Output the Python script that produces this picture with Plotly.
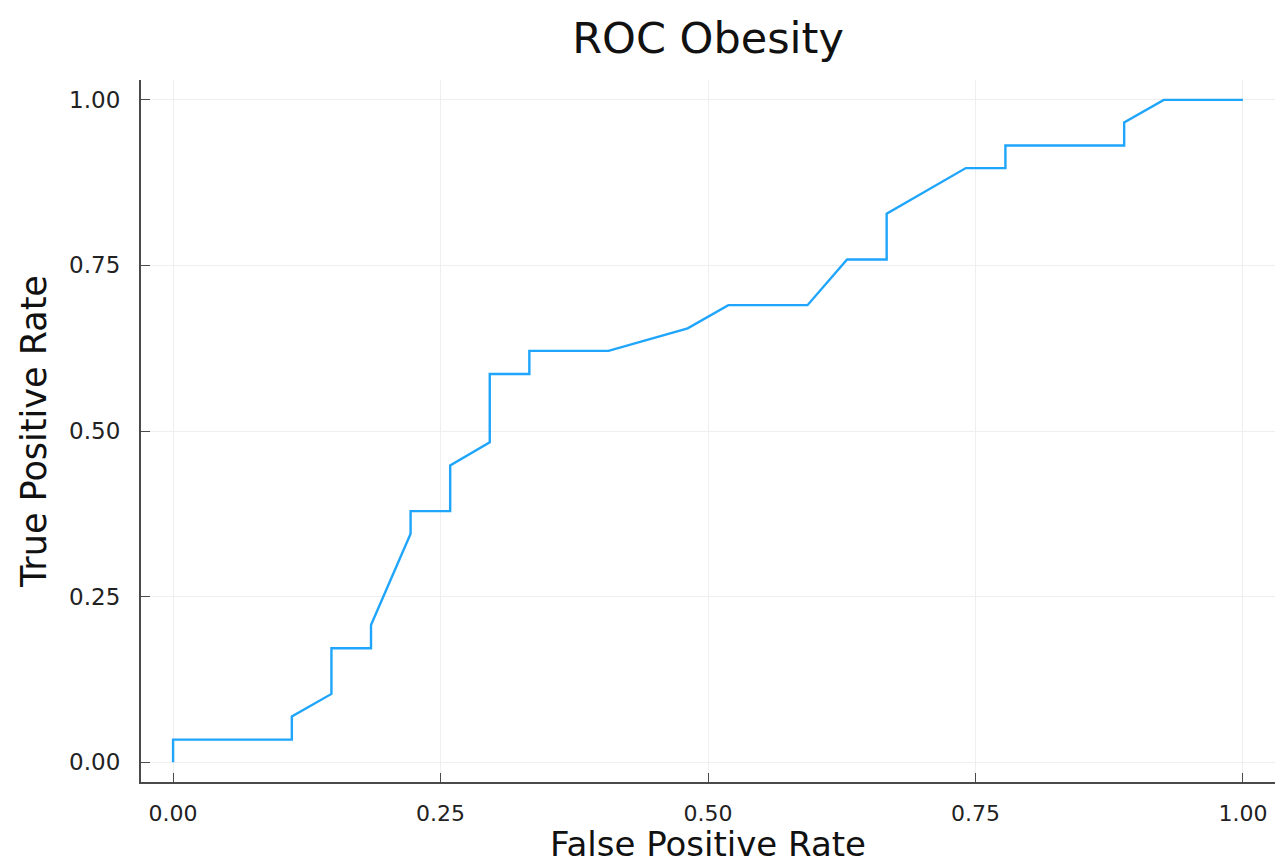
import plotly.graph_objects as go

# ROC curve points for the obesity classifier
false_positive_rate = [
    0.000, 0.000, 0.111, 0.111, 0.148, 0.148, 0.185, 0.185, 0.222, 0.222,
    0.259, 0.259, 0.296, 0.296, 0.333, 0.333, 0.407, 0.481, 0.519, 0.593,
    0.630, 0.667, 0.667, 0.741, 0.778, 0.778, 0.889, 0.889, 0.926, 1.000,
]
true_positive_rate = [
    0.000, 0.034, 0.034, 0.069, 0.103, 0.172, 0.172, 0.207, 0.345, 0.379,
    0.379, 0.448, 0.483, 0.586, 0.586, 0.621, 0.621, 0.655, 0.690, 0.690,
    0.759, 0.759, 0.828, 0.897, 0.897, 0.931, 0.931, 0.966, 1.000, 1.000,
]
tick_values = [0.0, 0.25, 0.5, 0.75, 1.0]
tick_labels = ["0.00", "0.25", "0.50", "0.75", "1.00"]

FONT = "DejaVu Sans"
AXIS_COLOR = "#4a4a4a"
GRID_COLOR = "#efefef"

fig = go.Figure(
    go.Scatter(
        x=false_positive_rate,
        y=true_positive_rate,
        mode="lines",
        line=dict(color="#1fa5fb", width=2.4),
        showlegend=False,
    )
)

axis_style = dict(
    tickmode="array",
    tickvals=tick_values,
    ticktext=tick_labels,
    ticks="inside",
    ticklen=9,
    tickwidth=1.2,
    tickcolor=AXIS_COLOR,
    showline=True,
    linecolor=AXIS_COLOR,
    linewidth=2.2,
    mirror=False,
    showgrid=True,
    gridcolor=GRID_COLOR,
    gridwidth=1.4,
    zeroline=False,
    range=[-0.03, 1.03],
)

fig.update_xaxes(
    **axis_style,
    tickfont=dict(family=FONT, size=22, color="#222222"),
    ticklabelstandoff=10,
    title=dict(text="False Positive Rate", font=dict(family=FONT, size=34, color="#111111"), standoff=16),
)
fig.update_yaxes(
    **axis_style,
    tickfont=dict(family=FONT, size=23, color="#222222"),
    ticklabelstandoff=14,
    title=dict(text="True Positive Rate", font=dict(family=FONT, size=35, color="#111111"), standoff=12),
)

fig.update_layout(
    width=1275,
    height=864,
    margin=dict(l=141, r=0, t=80, b=82, autoexpand=False),
    paper_bgcolor="white",
    plot_bgcolor="white",
    title=dict(
        text="ROC Obesity",
        font=dict(family=FONT, size=43, color="#111111"),
        x=(141 + 1275) / 2 / 1275,
        xanchor="center",
        xref="container",
        y=1 - 38 / 864,
        yanchor="middle",
        yref="container",
    ),
)

fig.write_html("out.html")
